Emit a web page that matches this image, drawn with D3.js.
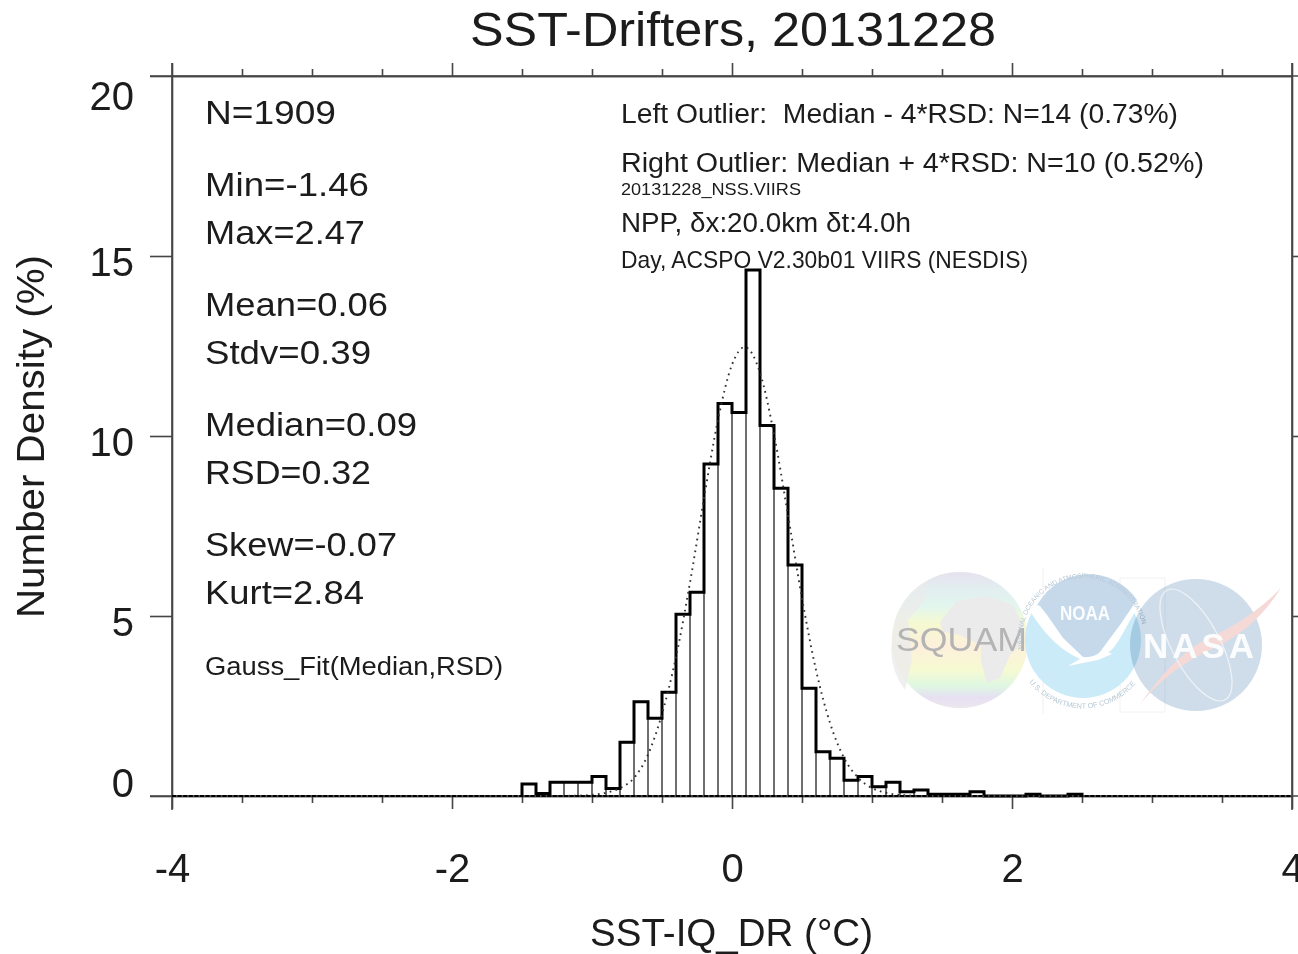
<!DOCTYPE html>
<html><head><meta charset="utf-8">
<script src="https://cdnjs.cloudflare.com/ajax/libs/d3/7.8.5/d3.min.js"></script>
<style>html,body{margin:0;padding:0;background:#fff;overflow:hidden}svg{display:block}text{font-family:"Liberation Sans",Arial,sans-serif;fill:#1a1a1a}</style>
</head><body><svg id="c" width="1298" height="954"></svg>
<script>
// ---- data ----
const binLower = [-1.5,-1.4,-1.3,-1.2,-1.1,-1.0,-0.9,-0.8,-0.7,-0.6,-0.5,-0.4,-0.3,-0.2,-0.1,0,0.1,0.2,0.3,0.4,0.5,0.6,0.7,0.8,0.9,1.0,1.1,1.2,1.3,1.4,1.5,1.6,1.7,1.8,1.9,2.0,2.1,2.2,2.3,2.4];
const density  = [0.33,0.07,0.38,0.38,0.38,0.54,0.21,1.49,2.62,2.16,2.88,5.05,5.66,9.22,10.9,10.65,14.61,10.29,8.55,6.42,2.99,1.23,1.05,0.44,0.54,0.26,0.38,0.12,0.17,0.05,0.05,0.05,0.12,0,0,0,0.05,0,0,0.05];
const binWidth = 0.1;
const fitX = [-4,-1.3,-1.1,-1.0,-0.9,-0.8,-0.7,-0.6,-0.5,-0.4,-0.3,-0.2,-0.1,0,0.09,0.2,0.3,0.4,0.5,0.6,0.7,0.8,0.9,1.0,1.1,1.2,1.4,4];
const fitY = [0,0,0.01,0.03,0.09,0.22,0.5,1.15,2.28,3.86,5.93,8.27,10.45,11.98,12.47,11.76,10.05,7.8,5.49,3.5,2.03,1.06,0.51,0.22,0.09,0.03,0,0];
const xMajor = [-4,-2,0,2,4];
const xMinor = [-3.5,-3,-2.5,-1.5,-1,-0.5,0.5,1,1.5,2.5,3,3.5];
const yMajor = [0,5,10,15,20];
const titleText = "SST-Drifters, 20131228";
const xLabelText = "SST-IQ_DR (°C)";
const yLabelText = "Number Density (%)";
const statLabels = ["N=1909","Min=-1.46","Max=2.47","Mean=0.06","Stdv=0.39","Median=0.09","RSD=0.32","Skew=-0.07","Kurt=2.84"];
const fitLabel = "Gauss_Fit(Median,RSD)";
const infoLabels = ["Left Outlier:  Median - 4*RSD: N=14 (0.73%)","Right Outlier: Median + 4*RSD: N=10 (0.52%)","20131228_NSS.VIIRS","NPP, δx:20.0km δt:4.0h","Day, ACSPO V2.30b01 VIIRS (NESDIS)"];

// ---- layout ----
const svg = d3.select("#c");
const defs = svg.append("defs");
defs.append("filter").attr("id","soft").attr("filterUnits","userSpaceOnUse").attr("x",0).attr("y",0).attr("width",1298).attr("height",954)
  .append("feGaussianBlur").attr("stdDeviation",0.6);
defs.append("filter").attr("id","softer").attr("filterUnits","userSpaceOnUse").attr("x",850).attr("y",540).attr("width",448).attr("height",200)
  .append("feGaussianBlur").attr("stdDeviation",0.5);
const grad = defs.append("linearGradient").attr("id","globe").attr("x1",0).attr("y1",0).attr("x2",0).attr("y2",1);
[[0,"#e6e2ee"],[0.12,"#e2eef0"],[0.25,"#e2f6ee"],[0.38,"#f5f9d0"],[0.55,"#fdf0dc"],[0.72,"#f6fad2"],[0.84,"#def7e2"],[0.92,"#e6e0f2"],[1,"#ebe6ee"]]
  .forEach(s=>grad.append("stop").attr("offset",s[0]).attr("stop-color",s[1]));

const root = svg.append("g").attr("filter","url(#soft)");
const x = d3.scaleLinear().domain([-4,4]).range([172,1292]);
const y = d3.scaleLinear().domain([0,20]).range([796,76]);

// logos
const logos = root.append("g").attr("filter","url(#softer)");
logos.append("line").attr("x1",1043).attr("x2",1043).attr("y1",568).attr("y2",714).attr("stroke","#f0f0f0");
logos.append("rect").attr("x",1120).attr("y",578).attr("width",45).attr("height",134).attr("fill","none").attr("stroke","#f2f2f2");
logos.append("circle").attr("cx",960).attr("cy",640).attr("r",68).attr("fill","url(#globe)");
logos.append("path").attr("fill","#ebebeb").attr("d","M940,622 L957,601 L987,596 L1013,605 L1023,625 L1020,645 L1010,655 L1000,678 L987,683 L981,661 L981,645 L960,635 L943,632 Z");
logos.append("path").attr("fill","#ebebeb").attr("d","M892,640 A68,68 0 0 1 925,582 L925,600 L908,620 L912,660 L905,690 A68,68 0 0 1 892,640 Z").attr("opacity",0.8);
logos.append("text").attr("x",896).attr("y",651).attr("font-size",34).attr("textLength",131).attr("lengthAdjust","spacingAndGlyphs").style("fill","#b4b4b4").text("SQUAM");

logos.append("circle").attr("cx",1083).attr("cy",640).attr("r",58).attr("fill","#cbebf8");
logos.append("path").attr("fill","#c6d9eb").attr("d","M1038,604 A58,58 0 0 1 1137,600 L1120,625 L1100,652 Q1092,658 1083,657 L1063,638 L1047,615 Z");
logos.append("path").attr("fill","#fff").attr("d","M1028,608 Q1034,604 1040,606 L1047,615 L1063,638 L1083,657 Q1095,658 1100,652 L1120,625 L1137,600 L1142,600 Q1130,620 1122,635 Q1112,652 1108,652 L1112,654 L1098,660 L1068,666 L1080,659 Q1060,650 1045,632 Q1035,620 1028,608 Z");
logos.append("text").attr("x",1085).attr("y",620).attr("text-anchor","middle").attr("font-size",21).attr("font-weight","bold").attr("textLength",50).attr("lengthAdjust","spacingAndGlyphs").style("fill","#fbfdfe").text("NOAA");
defs.append("path").attr("id","ringTop").attr("d","M1025,658 A61,61 0 1 1 1141,658");
defs.append("path").attr("id","ringBot").attr("d","M1027,679 A68,68 0 0 0 1139,679");
logos.append("text").attr("font-size",6.6).style("fill","#b6c8d4").append("textPath").attr("href","#ringTop").attr("startOffset","4%").text("NATIONAL OCEANIC AND ATMOSPHERIC ADMINISTRATION");
logos.append("text").attr("font-size",7.2).style("fill","#b6c8d4").append("textPath").attr("href","#ringBot").attr("startOffset","3%").text("U.S. DEPARTMENT OF COMMERCE");

const nasa = logos.append("g").style("mix-blend-mode","multiply");
nasa.append("circle").attr("cx",1196).attr("cy",645).attr("r",66).attr("fill","#cfddea");
logos.append("path").attr("fill","#f5d9d6").attr("d","M1281,588 Q1250,620 1205,640 Q1175,655 1140,704 Q1170,668 1210,650 Q1255,630 1281,588 Z");
logos.append("ellipse").attr("cx",1196).attr("cy",645).attr("rx",24).attr("ry",62).attr("transform","rotate(-28 1196 645)").attr("fill","none").attr("stroke","#eef3f8").attr("stroke-width",1.2);
logos.append("text").attr("x",1143).attr("y",658).attr("font-size",35).attr("font-weight","bold").attr("textLength",111).attr("lengthAdjust","spacing").style("fill","#fbfcfe").text("NASA");

// histogram: thin inner bars, then heavy outline
const bins = binLower.map((b,i)=>({x0:b,x1:b+binWidth,v:density[i]}));
root.append("g").selectAll("rect").data(bins.filter(d=>d.v>0)).join("rect")
  .attr("x",d=>x(d.x0)).attr("width",d=>x(d.x1)-x(d.x0))
  .attr("y",d=>y(d.v)).attr("height",d=>y(0)-y(d.v))
  .attr("fill","none").attr("stroke","#666").attr("stroke-width",1.5);
const stepPts = [[binLower[0],0]].concat(bins.flatMap(d=>[[d.x0,d.v],[d.x1,d.v]]),[[bins[bins.length-1].x1,0]]);
root.append("path").datum(stepPts).attr("fill","none").attr("stroke","#000").attr("stroke-width",3).attr("stroke-linejoin","miter")
  .attr("d",d3.line().x(d=>x(d[0])).y(d=>y(d[1])));

// gaussian fit, dotted
root.append("path").datum(fitX.map((v,i)=>[v,fitY[i]])).attr("fill","none").attr("stroke","#333").attr("stroke-width",1.9).attr("stroke-dasharray","1.7 4.3")
  .attr("d",d3.line().curve(d3.curveMonotoneX).x(d=>x(d[0])).y(d=>y(d[1])));

// axes
function styleAxis(g){g.select(".domain").attr("stroke","#444").attr("stroke-width",1.6);g.selectAll(".tick line").attr("stroke","#444").attr("stroke-width",1.6);}
function noText(g){g.selectAll("text").remove();}
const fmt = d3.format("d");
root.append("g").attr("transform",`translate(0,${y(0)})`)
  .call(d3.axisBottom(x).tickValues(xMajor).tickSize(13).tickSizeOuter(0).tickPadding(36).tickFormat(fmt))
  .call(styleAxis).call(g=>g.selectAll("text").attr("font-size",40).attr("font-family","Liberation Sans").attr("dy",0).attr("y",86).text(d=>d<0?"-"+Math.abs(d):d));
root.append("g").attr("transform",`translate(0,${y(0)})`).call(d3.axisBottom(x).tickValues(xMinor).tickSize(7).tickSizeOuter(0)).call(styleAxis).call(noText);
root.append("g").attr("transform",`translate(0,${y(20)})`).call(d3.axisTop(x).tickValues(xMajor).tickSize(13).tickSizeOuter(0)).call(styleAxis).call(noText);
root.append("g").attr("transform",`translate(0,${y(20)})`).call(d3.axisTop(x).tickValues(xMinor).tickSize(7).tickSizeOuter(0)).call(styleAxis).call(noText);
const yShift = {0:-12,5:7,10:7,15:7,20:21};
root.append("g").attr("transform",`translate(${x(-4)},0)`)
  .call(d3.axisLeft(y).tickValues(yMajor).tickSize(22).tickSizeOuter(0).tickPadding(16).tickFormat(fmt))
  .call(styleAxis).call(g=>g.selectAll("text").attr("font-size",40).attr("font-family","Liberation Sans").attr("transform",d=>`translate(0,${yShift[d]})`));
root.append("g").attr("transform",`translate(${x(4)},0)`)
  .call(d3.axisRight(y).tickValues([5,10,15]).tickSize(22).tickSizeOuter(0)).call(styleAxis).call(noText);
// axis overshoot past the frame corners
const edges=[x(-4),x(4)];
root.append("g").selectAll("line").data(edges).join("line").attr("x1",d=>d).attr("x2",d=>d).attr("y1",y(20)-13).attr("y2",y(0)+14).attr("stroke","#444").attr("stroke-width",1.6);
root.append("g").selectAll("line").data([y(20),y(0)]).join("line").attr("x1",150).attr("x2",1298).attr("y1",d=>d).attr("y2",d=>d).attr("stroke","#444").attr("stroke-width",1.6);
// zero line overlaid with the fit's dashes
root.append("line").attr("x1",x(-4)).attr("x2",x(4)).attr("y1",y(0)).attr("y2",y(0)).attr("stroke","#000").attr("stroke-width",1.8).attr("stroke-dasharray","4 1.6");

// text
function label(s,px,py,size,w,anchor){
  return root.append("text").attr("x",px).attr("y",py).attr("font-size",size).attr("text-anchor",anchor||"start")
    .attr("textLength",w).attr("lengthAdjust","spacingAndGlyphs").style("white-space","pre").text(s);
}
label(titleText,470,46,48,526);
label(xLabelText,590,946,38,283);
root.append("text").attr("transform","translate(44,618) rotate(-90)").attr("font-size",38).attr("textLength",363).attr("lengthAdjust","spacingAndGlyphs").text(yLabelText);
const statY=[124,196,244,316,364,436,484,556,604], statW=[131,164,160,183,166,212,166,192,159];
statLabels.forEach((s,i)=>label(s,205,statY[i],33,statW[i]));
label(fitLabel,205,675,26,298);
const infoY=[123,172,195,232,268], infoW=[557,583,180,290,407], infoS=[27,27,17,27,24];
infoLabels.forEach((s,i)=>label(s,621,infoY[i],infoS[i],infoW[i]));
</script></body></html>
